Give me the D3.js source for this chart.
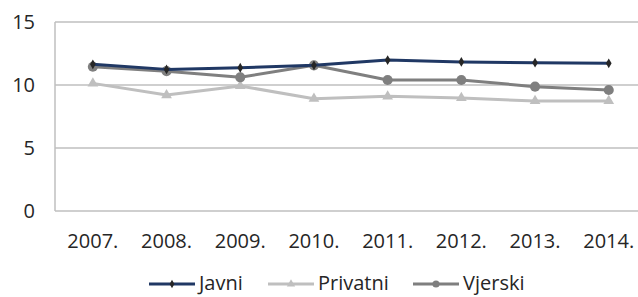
<!DOCTYPE html>
<html><head><meta charset="utf-8">
<script src="https://cdn.jsdelivr.net/npm/d3@7/dist/d3.min.js"></script>
<style>body{margin:0;background:#fff}svg{display:block}text{font-family:"Open Sans",sans-serif;fill:#262626}</style>
</head><body><svg id="c" width="638" height="297"></svg>
<script>
const categories = ["2007.","2008.","2009.","2010.","2011.","2012.","2013.","2014."];
const javni    = [11.64, 11.24, 11.37, 11.56, 11.98, 11.83, 11.77, 11.72];
const privatni = [10.13, 9.20, 9.92, 8.91, 9.10, 8.97, 8.73, 8.73];
const vjerski  = [11.45, 11.10, 10.61, 11.56, 10.40, 10.40, 9.87, 9.60];
const yTicks = [0, 5, 10, 15];
const seriesNames = ["Javni","Privatni","Vjerski"];

const svg = d3.select("#c");
const x = d3.scaleBand().domain(categories).range([56, 645.6]);
const y = d3.scaleLinear().domain([0, 15]).range([211, 22]);

svg.append("g").selectAll("line").data(yTicks).join("line")
  .attr("x1", 55).attr("x2", 638).attr("y1", d => y(d)).attr("y2", d => y(d))
  .attr("stroke", "#bfbfbf").attr("stroke-width", 1.5);
svg.append("line").attr("x1", 55).attr("x2", 55).attr("y1", y(15)).attr("y2", y(0))
  .attr("stroke", "#bfbfbf").attr("stroke-width", 1.5);

svg.append("g").selectAll("text").data(yTicks).join("text")
  .attr("x", 35).attr("y", d => y(d)).attr("dy", "0.35em").attr("text-anchor", "end")
  .attr("font-size", 20).text(d => d);
svg.append("g").selectAll("text").data(categories).join("text")
  .attr("x", d => x(d) + x.bandwidth()/2).attr("y", 248).attr("text-anchor", "middle")
  .attr("font-size", 20).text(d => d);

const series = [
  {name: seriesNames[0], vals: javni, color: "#203864", mcolor: "#262626", marker: "diamond"},
  {name: seriesNames[1], vals: privatni, color: "#bfbfbf", mcolor: "#bfbfbf", marker: "triangle"},
  {name: seriesNames[2], vals: vjerski, color: "#7f7f7f", mcolor: "#7f7f7f", marker: "circle"}
];
const drawOrder = [1, 2, 0];
const symFor = m => m === "diamond" ? d3.symbol(d3.symbolDiamond, 28)
  : m === "triangle" ? d3.symbol(d3.symbolTriangle, 50) : d3.symbol(d3.symbolCircle, 80);

const line = d3.line().x((d, i) => x(categories[i]) + x.bandwidth()/2).y(d => y(d));
drawOrder.forEach(k => {
  const s = series[k];
  const g = svg.append("g");
  g.append("path").attr("d", line(s.vals)).attr("fill", "none")
    .attr("stroke", s.color).attr("stroke-width", 3).attr("stroke-linejoin", "round");
  g.selectAll("path.m").data(s.vals).join("path").attr("class", "m")
    .attr("transform", (d, i) => `translate(${x(categories[i]) + x.bandwidth()/2},${y(d)})`)
    .attr("d", symFor(s.marker)()).attr("fill", s.mcolor);
});

const legX = [149, 268, 413];
const lg = svg.append("g");
series.forEach((s, k) => {
  const g = lg.append("g").attr("transform", `translate(${legX[k]},284)`);
  g.append("line").attr("x1", 0).attr("x2", 46).attr("stroke", s.color).attr("stroke-width", 3);
  g.append("path").attr("transform", "translate(23,0)")
    .attr("d", (s.marker === "diamond" ? d3.symbol(d3.symbolDiamond, 20) : s.marker === "triangle" ? d3.symbol(d3.symbolTriangle, 30) : d3.symbol(d3.symbolCircle, 40))())
    .attr("fill", s.mcolor);
  g.append("text").attr("x", 50).attr("y", 0).attr("dy", "0.3em").attr("font-size", 20).text(s.name);
});
</script></body></html>
